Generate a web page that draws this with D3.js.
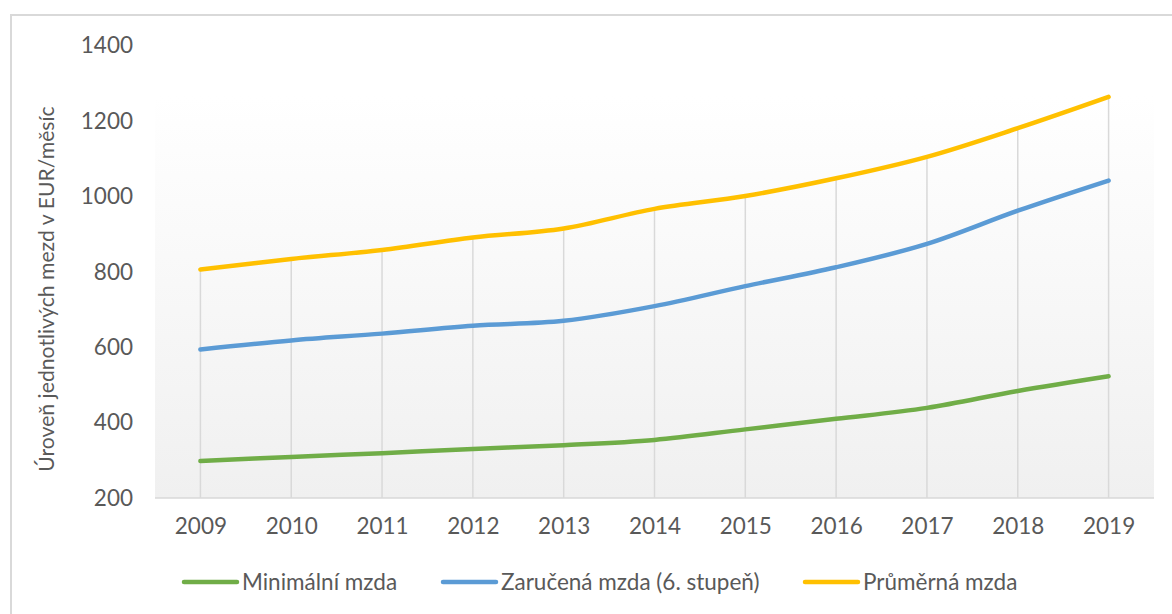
<!DOCTYPE html>
<html>
<head>
<meta charset="utf-8">
<script src="https://cdn.jsdelivr.net/npm/d3@7"></script>
<style>
  body { margin: 0; background: #fff; }
  text { font-family: Lato, "Open Sans", sans-serif; fill: #595959; }
</style>
</head>
<body>
<script>
// mzdy SR 2009-2019, EUR/mesiac
var years = ["2009","2010","2011","2012","2013","2014","2015","2016","2017","2018","2019"];
var minimalni = [298, 309, 319, 330, 340, 354, 382, 410, 439, 484, 523];
var zarucena  = [594, 618, 636, 657, 670, 709, 762, 812, 874, 962, 1042];
var prumerna  = [806, 834, 858, 891, 915, 967, 1001, 1048, 1105, 1181, 1264];
var yTicks = [200, 400, 600, 800, 1000, 1200, 1400];
var seriesNames = ["Minimální mzda", "Zaručená mzda (6. stupeň)", "Průměrná mzda"];
var seriesColors = ["#70AD47", "#5B9BD5", "#FFC000"];

var w = 1172, h = 614;
var plot = {left: 155, right: 1154, top: 96, bottom: 498};

var svg = d3.select("body").append("svg")
  .attr("width", w)
  .attr("height", h);

// outer border (only top/left visible)
svg.append("rect")
  .attr("x", 11).attr("y", 15)
  .attr("width", 1300).attr("height", 800)
  .attr("fill", "#fff")
  .attr("stroke", "#d9d9d9")
  .attr("stroke-width", 2);

// plot gradient
var grad = svg.append("defs").append("linearGradient")
  .attr("id", "bg").attr("x1", 0).attr("y1", 0).attr("x2", 0).attr("y2", 1);
grad.append("stop").attr("offset", "0%").attr("stop-color", "#ffffff");
grad.append("stop").attr("offset", "100%").attr("stop-color", "#f0f0f0");

svg.append("rect")
  .attr("x", plot.left).attr("y", plot.top)
  .attr("width", plot.right - plot.left)
  .attr("height", plot.bottom - plot.top)
  .attr("fill", "url(#bg)");

var x = d3.scalePoint().domain(years).range([plot.left, plot.right]).padding(0.5);
var y = d3.scaleLinear().domain([200, 1400]).range([498, 45.6]);

var series = [minimalni, zarucena, prumerna].map(function(vals, i) {
  return {name: seriesNames[i], color: seriesColors[i],
    values: vals.map(function(v, j) { return {year: years[j], value: v}; })};
});

// drop lines (from the highest point to the axis)
svg.selectAll("line.drop")
  .data(years)
  .enter()
  .append("line")
  .attr("class", "drop")
  .attr("x1", function(d) { return x(d); })
  .attr("x2", function(d) { return x(d); })
  .attr("y1", function(d, i) { return y(d3.max([minimalni[i], zarucena[i], prumerna[i]])); })
  .attr("y2", y(200))
  .attr("stroke", "#d9d9d9")
  .attr("stroke-width", 1.5);

// x axis
var xAxis = svg.append("g")
  .attr("transform", "translate(0," + y(200) + ")")
  .call(d3.axisBottom(x).tickSize(0).tickPadding(20));
xAxis.select(".domain")
  .attr("d", "M" + plot.left + ",0H" + plot.right)
  .attr("stroke", "#d9d9d9").attr("stroke-width", 1.5);
xAxis.selectAll("text")
  .attr("font-size", "22.5px")
  .attr("font-family", null)
  .attr("fill", "#595959");

// y axis
var yAxis = svg.append("g")
  .attr("transform", "translate(133,0)")
  .call(d3.axisLeft(y).tickValues(yTicks).tickSize(0).tickPadding(0).tickFormat(d3.format("d")));
yAxis.select(".domain").remove();
yAxis.selectAll("text")
  .attr("font-size", "22.5px")
  .attr("font-family", null)
  .attr("fill", "#595959");

// y title
svg.append("text")
  .attr("transform", "translate(54,289) rotate(-90)")
  .attr("text-anchor", "middle")
  .attr("font-size", "21.2px")
  .text("Úroveň jednotlivých mezd v EUR/měsíc");

// lines
var line = d3.line()
  .x(function(d) { return x(d.year); })
  .y(function(d) { return y(d.value); })
  .curve(d3.curveCatmullRom);

svg.selectAll("path.series")
  .data(series)
  .enter()
  .append("path")
  .attr("class", "series")
  .attr("d", function(d) { return line(d.values); })
  .attr("fill", "none")
  .attr("stroke", function(d) { return d.color; })
  .attr("stroke-width", 4.5)
  .attr("stroke-linecap", "round")
  .attr("stroke-linejoin", "round");

// legend
var legendX = [184, 443, 805];
var legend = svg.selectAll("g.legend")
  .data(series)
  .enter()
  .append("g")
  .attr("class", "legend")
  .attr("transform", function(d, i) { return "translate(" + legendX[i] + ",582)"; });
legend.append("line")
  .attr("x1", 0).attr("x2", 53)
  .attr("stroke", function(d) { return d.color; })
  .attr("stroke-width", 4.5)
  .attr("stroke-linecap", "round");
legend.append("text")
  .attr("x", 58)
  .attr("dy", "0.35em")
  .attr("font-size", "22.5px")
  .text(function(d) { return d.name; });
</script>
</body>
</html>
